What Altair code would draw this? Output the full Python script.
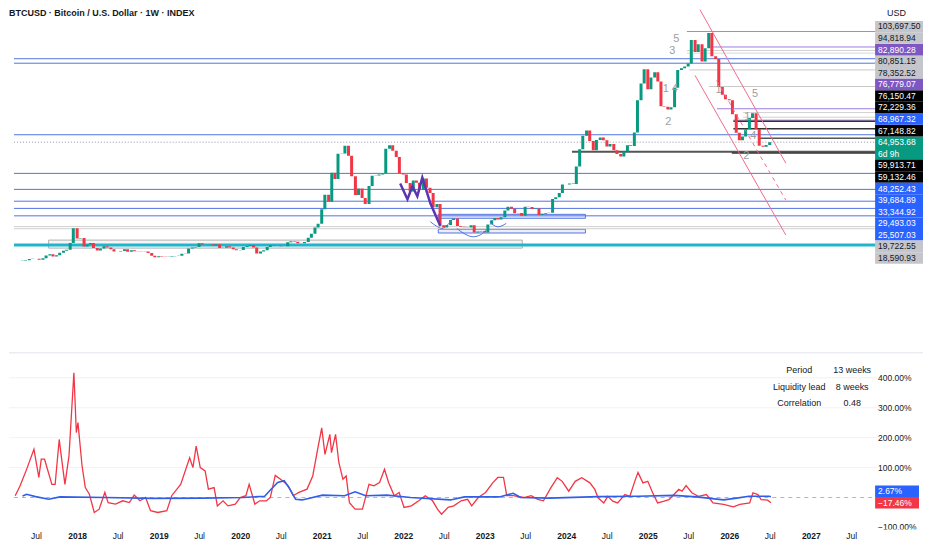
import altair as alt
import pandas as pd

# ---------------- layout constants ----------------
W, H = 916, 522              # whole drawing (plot incl. price-label column)
PLOT_RIGHT = 870             # end of the drawing area, label column to the right
LAB_X1, LAB_X2, LAB_TX = 868, 916, 871
PX_PER_YEAR = 82.6
X2018_PX = 64                # pixel of 2018-01-01
x_min = 2018.0 - X2018_PX / PX_PER_YEAR
x_max = x_min + W / PX_PER_YEAR
PY0, PPK = 255.4, 1.87       # price pane: pixel of 0 USD, px per 1k USD
p_hi = PY0 / PPK * 1000
p_lo = (PY0 - H) / PPK * 1000
QY0, QPP = 490.0, 0.3        # oscillator pane: pixel of 0 %, px per 1 %
q_hi = QY0 / QPP
q_lo = (QY0 - H) / QPP
ROW = 11.6                   # height of a price label
FONT = "Liberation Sans"
INK = "#131722"

# ---------------- data ----------------
open_first = 1310
close_2017 = [1420, 1730, 2400, 2440, 2480, 1930, 2720, 4180, 4890, 3700, 4400, 5690,
              6740, 7300, 10900, 18900]
close_2018 = [13400, 13600, 9100, 10200, 10900, 8250, 6900, 8050, 9200, 8500, 7530, 6450,
              6380, 6710, 7600, 6300, 7040, 6500, 6600, 6480, 6350, 5620, 4050, 3250]
close_2019 = [3800, 3630, 3440, 3620, 3850, 3950, 4120, 5150, 5350, 7990, 8570, 8800,
              10800, 10200, 10100, 10300, 9600, 10300, 8300, 8350, 9200, 8500, 7550, 7100]
close_2020 = [7200, 8800, 9350, 9900, 8550, 5350, 6400, 7100, 8800, 9700, 9450, 9450,
              9150, 9150, 11350, 11900, 11650, 10800, 10800, 11500, 13800, 15950, 19200, 21300]
close_2021 = [29000, 36800, 33100, 48600, 45200, 58800, 58900, 63100, 57700, 46700, 36700, 40100,
              35000, 31800, 41500, 47000, 47100, 47700, 48200, 61500, 63300, 60400, 57000, 48300]
close_2022 = [47700, 43100, 38500, 44500, 43200, 39300, 45500, 40500, 37700, 30100, 31800, 20400,
              19200, 20600, 23300, 24100, 20000, 19700, 19400, 19200, 20500, 16600, 17100, 17400]
close_2023 = [16600, 20900, 23100, 24300, 23600, 24700, 28400, 30400, 29300, 26900, 27000, 25600,
              30400, 30300, 29200, 29400, 26000, 26600, 27000, 27100, 34500, 35500, 37700, 42300]
close_2024 = [42300, 42800, 42600, 51900, 61200, 68400, 71300, 65600, 60600, 66200, 67500, 66000,
              62700, 64000, 60700, 58700, 57300, 60000, 63300, 62900, 70200, 87400, 96400, 104000]
close_2025 = [93400, 99700, 102400, 97500, 84300, 84000, 82500, 83700, 94200, 103600, 104600, 105600,
              107100, 119800, 113300, 117400, 108200, 115300, 123500, 111000, 109500, 94500, 90400, 88000]
close_2026 = [87500, 80000, 70000, 66000, 68000, 72000, 78000, 80500, 72000, 63000, 62500, 63500,
              64953.68]

# horizontal levels
hl_price = [124300, 116000, 114100, 112700, 109700, 107300, 103697.50, 94818.94, 82890.28,
            80851.15, 78352.52, 76779.07, 76150.47, 72229.36, 68967.32, 67148.82, 59913.71,
            59132.46, 48252.43, 39684.89, 33344.92, 29493.03, 25507.03, 19722.55, 18590.93, 9840]
hl_start = [2025.48, 2025.75, 2025.48, 2025.48, 2017.13, 2017.13, 2025.51, 2025.75, 2025.85,
            2026.17, 2026.17, 2026.05, 2026.05, 2026.05, 2017.13, 2026.36, 2024.07,
            2026.03, 2017.13, 2017.13, 2017.13, 2017.13, 2017.13, 2017.13, 2017.13, 2017.13]
hl_color = ["#cf6fd6", "#9c7be0", "#d2d2d2", "#d8d8d8", "#5274e0", "#5274e0", "#c9c9c9", "#c9c9c9",
            "#9c7be0", "#d0d0d0", "#d0d0d0", "#9c7be0", "#333333", "#333333", "#5274e0", "#555555",
            "#555555", "#333333", "#5274e0", "#5274e0", "#5274e0", "#5274e0", "#5274e0", "#d0d0d0",
            "#d0d0d0", "#1fb5cf"]
hl_width = [1, 1, 1, 1, 1, 1, 1, 1, 1, 1, 1, 1, 1.5, 1.5, 1, 1.5, 2, 1.5, 1, 1, 1, 1, 1, 1, 1, 3]
current_price = 64953.68

# boxes
box_x1 = [2022.43, 2022.43, 2017.65]
box_x2 = [2024.235, 2024.235, 2023.46]
box_p1 = [26300, 18300, 12500]
box_p2 = [24200, 16300, 8200]
box_color = ["#5274e0", "#5274e0", "#b0b0b0"]

# falling channel (visible segments)
chan_id = ["up", "up", "low", "low", "mid", "mid"]
chan_year = [2025.64, 2026.693, 2025.579, 2026.693, 2025.845, 2026.693]
chan_price = [136000, 53700, 100800, 15200, 98000, 33900]

# purple W drawing
w_year = [2021.963, 2022.052, 2022.113, 2022.173, 2022.234, 2022.334, 2022.455]
w_price = [42800, 34400, 41400, 36000, 46000, 32100, 20000]

# arcs under the 2022-2023 lows
arc_id = [1, 1, 1, 1, 1, 2, 2, 2, 2, 2, 3, 3, 3]
arc_year = [2022.334, 2022.407, 2022.476, 2022.540, 2022.613, 2022.657, 2022.758, 2022.858,
            2022.952, 2023.040, 2023.061, 2023.161, 2023.263]
arc_price = [22300, 20000, 18770, 20530, 24280, 18770, 15720, 14280, 15450, 18770,
             22300, 19630, 21440]

# wave labels
wave_text = ["5", "3", "1 4", "2", "1", "5", "1", "4", "2"]
wave_year = [2025.349, 2025.300, 2025.276, 2025.252, 2025.869, 2026.317, 2026.220, 2026.293, 2026.208]
wave_price = [120500, 113600, 93300, 75600, 92700, 90600, 78300, 68100, 57400]

# price labels on the axis
lab_price = [103697.50, 94818.94, 82890.28, 80851.15, 78352.52, 76779.07, 76150.47, 72229.36,
             68967.32, 67148.82, 59913.71, 59132.46, 48252.43, 39684.89, 33344.92, 29493.03,
             25507.03, 19722.55, 18590.93]
lab_kind = ["gray", "gray", "purple", "gray", "gray", "purple", "black", "black", "blue", "black",
            "black", "black", "blue", "blue", "blue", "blue", "blue", "gray", "gray"]
countdown = "6d 9h"

# oscillator (percent) series
red_year = [2017.13, 2017.17, 2017.24, 2017.30, 2017.38, 2017.47, 2017.53, 2017.56, 2017.60, 2017.69,
            2017.73, 2017.78, 2017.81, 2017.85, 2017.90, 2017.96, 2017.99, 2018.01, 2018.06, 2018.10,
            2018.15, 2018.21, 2018.27, 2018.34, 2018.38, 2018.47, 2018.56, 2018.64, 2018.70, 2018.77,
            2018.84, 2018.90, 2018.99, 2019.10, 2019.16, 2019.27, 2019.38, 2019.42, 2019.46, 2019.51,
            2019.57, 2019.61, 2019.68, 2019.72, 2019.79, 2019.85, 2019.94, 2020.00, 2020.07, 2020.11,
            2020.18, 2020.24, 2020.32, 2020.37, 2020.43, 2020.52, 2020.59, 2020.65, 2020.72, 2020.82,
            2020.89, 2020.95, 2021.00, 2021.04, 2021.10, 2021.12, 2021.17, 2021.21, 2021.26, 2021.30,
            2021.34, 2021.41, 2021.50, 2021.58, 2021.64, 2021.71, 2021.77, 2021.82, 2021.89, 2021.95,
            2022.01, 2022.10, 2022.19, 2022.27, 2022.36, 2022.42, 2022.47, 2022.55, 2022.62, 2022.71,
            2022.79, 2022.84, 2022.92, 2023.01, 2023.10, 2023.16, 2023.23, 2023.27, 2023.35, 2023.48,
            2023.57, 2023.65, 2023.72, 2023.81, 2023.89, 2023.95, 2024.03, 2024.11, 2024.19, 2024.29,
            2024.35, 2024.39, 2024.46, 2024.51, 2024.57, 2024.63, 2024.72, 2024.78, 2024.84, 2024.88,
            2024.94, 2025.00, 2025.06, 2025.12, 2025.20, 2025.26, 2025.32, 2025.38, 2025.42, 2025.47,
            2025.54, 2025.62, 2025.72, 2025.80, 2025.93, 2026.05, 2026.13, 2026.25, 2026.29, 2026.35,
            2026.39, 2026.47, 2026.51]
red_pct = [61, 67, 6, 39, 94, 161, 67, 128, 128, 44,
           44, 194, 128, 44, 139, 417, 217, 250, 106, 33,
           11, -50, -39, 17, -17, -22, -11, -17, 8, -11,
           0, -44, -50, -44, 6, 44, 133, 100, 172, 100,
           89, 28, 33, -28, -11, -28, -22, 0, 6, 44,
           -22, -11, -11, 0, 74, 56, 39, 6, 17, 28,
           72, 161, 233, 144, 211, 150, 211, 117, 61, 72,
           -17, -39, -39, 44, 39, 50, 94, 50, 6, 17,
           -33, -28, -11, 6, -11, -39, -56, -33, -28, -11,
           -6, -28, 0, 17, 50, 67, 67, 6, 6, 0,
           6, -6, -11, 32, 66, 54, 21, 54, 66, 49,
           27, -1, -18, 4, -12, -18, 10, 4, 54, 84,
           49, 54, 16, -18, -12, -7, 10, 27, 21, 40,
           16, 4, 10, -18, -23, -31, -23, -18, 16, 10,
           -7, -9, -17.46]
blue_year = [2017.13, 2017.33, 2017.38, 2017.49, 2017.65, 2017.79, 2018.34, 2018.94, 2019.55, 2020.03,
             2020.30, 2020.37, 2020.46, 2020.54, 2020.61, 2020.68, 2020.76, 2021.01, 2021.28, 2021.41,
             2021.54, 2021.80, 2022.09, 2022.58, 2022.75, 2023.18, 2023.35, 2023.44, 2023.79, 2024.39,
             2024.88, 2025.32, 2025.60, 2025.93, 2026.09, 2026.24, 2026.49, 2026.51]
blue_pct = [2, 5, 11, 3, -6, 2, 0, -3, -2, 0,
            4, 25, 50, 56, 28, -6, -8, 8, 6, 19,
            6, 8, 0, -8, 2, 2, 14, 0, -2, 3,
            4, 7, 2, -8, -2, 4, 4, 2.67]
pct_ticks = [400, 300, 200, 100, -100]
stats_name = ["Period", "Liquidity lead", "Correlation"]
stats_value = ["13 weeks", "8 weeks", "0.48"]
title_text = "BTCUSD · Bitcoin / U.S. Dollar · 1W · INDEX"

# ---------------- tables ----------------
def dec_year(ts):
    return ts.year + (ts.dayofyear - 1) / 365.25

dates = []
for yr in range(2017, 2027):
    for m in range(1, 13):
        for d in (1, 15):
            ts = pd.Timestamp(yr, m, d)
            if pd.Timestamp(2017, 5, 1) <= ts <= pd.Timestamp(2026, 7, 1):
                dates.append(ts)
closes = (close_2017 + close_2018 + close_2019 + close_2020 + close_2021 + close_2022 +
          close_2023 + close_2024 + close_2025 + close_2026)
assert len(dates) == len(closes), (len(dates), len(closes))
opens = [open_first] + closes[:-1]
candles = pd.DataFrame({
    "t": [dec_year(d) for d in dates], "open": opens, "close": closes,
})
candles["col"] = ["#089981" if c >= o else "#f23645" for o, c in zip(opens, closes)]

# everything starting left of the visible window starts at its edge
levels = pd.DataFrame({"price": hl_price, "start": [max(s, x_min) for s in hl_start],
                       "col": hl_color, "w": hl_width})
boxes = pd.DataFrame({"x1": box_x1, "x2": box_x2, "p1": box_p1, "p2": box_p2, "col": box_color})
chan = pd.DataFrame({"id": chan_id, "t": chan_year, "price": chan_price})
wline = pd.DataFrame({"t": w_year, "price": w_price})
arcs = pd.DataFrame({"id": arc_id, "t": arc_year, "price": arc_price})
waves = pd.DataFrame({"txt": wave_text, "t": wave_year, "price": wave_price})

def py(p):
    return PY0 - PPK * p / 1000.0

def pinv(y):
    return (PY0 - y) / PPK * 1000.0

bg = {"gray": "#c4c6cc", "purple": "#7e57c2", "black": "#000000", "blue": "#2962ff"}
fg = {"gray": INK, "purple": "#ffffff", "black": "#ffffff", "blue": "#ffffff"}
rows = []
anchor = py(current_price)
rows.append((f"{current_price:,.2f}", anchor, "#089981", "#ffffff"))
rows.append((countdown, anchor + ROW, "#089981", "#ffffff"))
above = sorted([(p, k) for p, k in zip(lab_price, lab_kind) if p > current_price])
prev = anchor
for p, k in above:
    c = min(py(p), prev - ROW)
    rows.append((f"{p:,.2f}", c, bg[k], fg[k]))
    prev = c
below = sorted([(p, k) for p, k in zip(lab_price, lab_kind) if p < current_price], reverse=True)
prev = anchor + ROW
for p, k in below:
    c = max(py(p), prev + ROW)
    rows.append((f"{p:,.2f}", c, bg[k], fg[k]))
    prev = c
labels = pd.DataFrame({
    "txt": [r[0] for r in rows],
    "mid": [pinv(r[1]) for r in rows],
    "top": [pinv(r[1] - ROW / 2) for r in rows],
    "bot": [pinv(r[1] + ROW / 2) for r in rows],
    "bg": [r[2] for r in rows], "fg": [r[3] for r in rows],
})

def qy(v):
    return QY0 - QPP * v

def qinv(y):
    return (QY0 - y) / QPP

red_anchor = qy(red_pct[-1])
blue_c = min(qy(blue_pct[-1]), red_anchor - ROW)
osc_rows = [(f"{blue_pct[-1]:.2f}%", blue_c, "#2962ff"),
            (f"{red_pct[-1]:.2f}%".replace("-", "\u2212"), red_anchor, "#f23645")]
osc_labels = pd.DataFrame({
    "txt": [r[0] for r in osc_rows],
    "mid": [qinv(r[1]) for r in osc_rows],
    "top": [qinv(r[1] - ROW / 2) for r in osc_rows],
    "bot": [qinv(r[1] + ROW / 2) for r in osc_rows],
    "bg": [r[2] for r in osc_rows],
})
ticks = pd.DataFrame({"pct": pct_ticks,
                      "txt": [f"{v:.2f}%".replace("-", "\u2212") for v in pct_ticks]})
red = pd.DataFrame({"t": red_year, "pct": red_pct})
red = red[red.t >= x_min]
blue = pd.DataFrame({"t": blue_year, "pct": blue_pct})
blue = blue[blue.t >= x_min]

# ---------------- encodings ----------------
xscale = alt.Scale(domain=[x_min, x_max], nice=False, zero=False)
tick_vals = []
for yr in range(2017, 2028):
    tick_vals.append(round(yr + 181 / 365.25, 4))
    if yr + 1 <= 2027:
        tick_vals.append(float(yr + 1))
is_year = "abs(datum.value - round(datum.value)) < 0.01"
xaxis = alt.Axis(values=tick_vals, title=None, domain=False, ticks=False, grid=False,
                 labelExpr=f"{is_year} ? format(round(datum.value), 'd') : 'Jul'",
                 labelFontWeight={"condition": {"test": is_year, "value": "bold"}, "value": "normal"},
                 labelPadding=2.5, labelFontSize=8.5, labelColor=INK, labelFont=FONT,
                 labelOverlap=False, labelFlush=False)

def X(field):
    return alt.X(f"{field}:Q", scale=xscale, axis=xaxis)

pscale = alt.Scale(domain=[p_lo, p_hi], nice=False, zero=False)
qscale = alt.Scale(domain=[q_lo, q_hi], nice=False, zero=False)

def PY(field):
    return alt.Y(f"{field}:Q", scale=pscale, axis=None)

def QY(field):
    return alt.Y(f"{field}:Q", scale=qscale, axis=None)

one = pd.DataFrame({"a": [0]})

# ---------------- price pane ----------------
box_layer = alt.Chart(boxes).mark_rect(fillOpacity=0.12, strokeWidth=1, clip=True).encode(
    x=X("x1"), x2="x2", y=PY("p1"), y2="p2",
    fill=alt.Color("col:N", scale=None), stroke=alt.Color("col:N", scale=None))
level_layer = alt.Chart(levels).mark_rule(clip=True).encode(
    x=X("start"), x2=alt.value(PLOT_RIGHT), y=PY("price"),
    color=alt.Color("col:N", scale=None), strokeWidth=alt.StrokeWidth("w:Q", scale=None))
cur_layer = alt.Chart(pd.DataFrame({"price": [current_price], "start": [x_min]})).mark_rule(
    color="#9598a1", strokeDash=[1, 2], strokeWidth=1).encode(
    x=X("start"), x2=alt.value(PLOT_RIGHT), y=PY("price"))
candle_layer = alt.Chart(candles).mark_bar(width=3.0, clip=True).encode(
    x=X("t"), y=PY("open"), y2="close", color=alt.Color("col:N", scale=None))
chan_solid = alt.Chart(chan[chan.id != "mid"]).mark_line(color="#f06c8c", strokeWidth=1, clip=True).encode(
    x=X("t"), y=PY("price"), detail="id:N")
chan_dash = alt.Chart(chan[chan.id == "mid"]).mark_line(color="#f06c8c", strokeWidth=1,
                                                        strokeDash=[4, 4], clip=True).encode(
    x=X("t"), y=PY("price"))
w_layer = alt.Chart(wline).mark_line(color="#5e35b1", strokeWidth=2.5).encode(x=X("t"), y=PY("price"))
arc_layer = alt.Chart(arcs).mark_line(color="#5274e0", strokeWidth=1, interpolate="monotone").encode(
    x=X("t"), y=PY("price"), detail="id:N")
wave_layer = alt.Chart(waves).mark_text(color="#9e9e9e", fontSize=11, font=FONT).encode(
    x=X("t"), y=PY("price"), text="txt:N")
lab_rect = alt.Chart(labels).mark_rect(clip=True).encode(
    x=alt.value(LAB_X1), x2=alt.value(LAB_X2), y=PY("top"), y2="bot",
    color=alt.Color("bg:N", scale=None))
lab_text = alt.Chart(labels).mark_text(align="left", baseline="middle", fontSize=8.5, font=FONT,
                                       clip=True).encode(
    x=alt.value(LAB_TX), y=PY("mid"), text="txt:N", color=alt.Color("fg:N", scale=None))
usd_box = alt.Chart(one).mark_rect(color="white").encode(
    x=alt.value(LAB_X1), x2=alt.value(W), y=alt.value(0), y2=alt.value(12.5))
usd_text = alt.Chart(pd.DataFrame({"txt": ["USD"]})).mark_text(
    align="left", baseline="top", fontSize=9, font=FONT, color=INK).encode(
    x=alt.value(880), y=alt.value(0), text="txt:N")
title_layer = alt.Chart(pd.DataFrame({"txt": [title_text]})).mark_text(
    align="left", baseline="top", fontSize=9, font=FONT, fontWeight="bold", color=INK).encode(
    x=alt.value(0), y=alt.value(0), text="txt:N")
sep = alt.Chart(one).mark_rule(color="#e0e3eb", strokeWidth=1).encode(
    x=alt.value(0), x2=alt.value(W), y=alt.value(345))

price_pane = alt.layer(box_layer, level_layer, cur_layer, candle_layer, chan_solid, chan_dash,
                       w_layer, arc_layer, wave_layer, lab_rect, lab_text, usd_box, usd_text,
                       title_layer, sep)

# ---------------- oscillator pane ----------------
grid = alt.Chart(ticks[ticks.pct > 0]).mark_rule(color="#f0f2f5", strokeWidth=1).encode(
    x=alt.value(0), x2=alt.value(PLOT_RIGHT), y=QY("pct"))
zero = alt.Chart(pd.DataFrame({"pct": [0], "start": [x_min]})).mark_rule(
    color="#b2b5be", strokeDash=[4, 4], strokeWidth=1).encode(
    x=X("start"), x2=alt.value(PLOT_RIGHT), y=QY("pct"))
red_line = alt.Chart(red).mark_line(color="#f23645", strokeWidth=1.3, clip=True).encode(
    x=X("t"), y=QY("pct"))
blue_line = alt.Chart(blue).mark_line(color="#2f5fe8", strokeWidth=1.6, clip=True).encode(
    x=X("t"), y=QY("pct"))
tick_text = alt.Chart(ticks).mark_text(align="left", baseline="middle", fontSize=8.5, font=FONT,
                                       color=INK, clip=True).encode(
    x=alt.value(LAB_TX), y=QY("pct"), text="txt:N")
osc_rect = alt.Chart(osc_labels).mark_rect().encode(
    x=alt.value(LAB_X1), x2=alt.value(LAB_X2 - 4), y=QY("top"), y2="bot",
    color=alt.Color("bg:N", scale=None))
osc_text = alt.Chart(osc_labels).mark_text(align="left", baseline="middle", fontSize=8.5,
                                           font=FONT, color="white").encode(
    x=alt.value(LAB_TX), y=QY("mid"), text="txt:N")
stat_layers = []
for i, (n, v) in enumerate(zip(stats_name, stats_value)):
    yrow = 362.7 + i * 16.2
    stat_layers.append(alt.Chart(pd.DataFrame({"txt": [n]})).mark_text(
        align="center", baseline="middle", fontSize=9, font=FONT, color=INK).encode(
        x=alt.value(792), y=alt.value(yrow), text="txt:N"))
    stat_layers.append(alt.Chart(pd.DataFrame({"txt": [v]})).mark_text(
        align="center", baseline="middle", fontSize=9, font=FONT, color=INK).encode(
        x=alt.value(845), y=alt.value(yrow), text="txt:N"))

osc_pane = alt.layer(grid, zero, red_line, blue_line, tick_text, osc_rect, osc_text, *stat_layers)

chart = alt.layer(price_pane, osc_pane).resolve_scale(y="independent").properties(
    width=W, height=H, padding=0, background="white"
).configure_view(stroke=None)

chart.save("out.html", embed_options={"renderer": "svg", "actions": False})
